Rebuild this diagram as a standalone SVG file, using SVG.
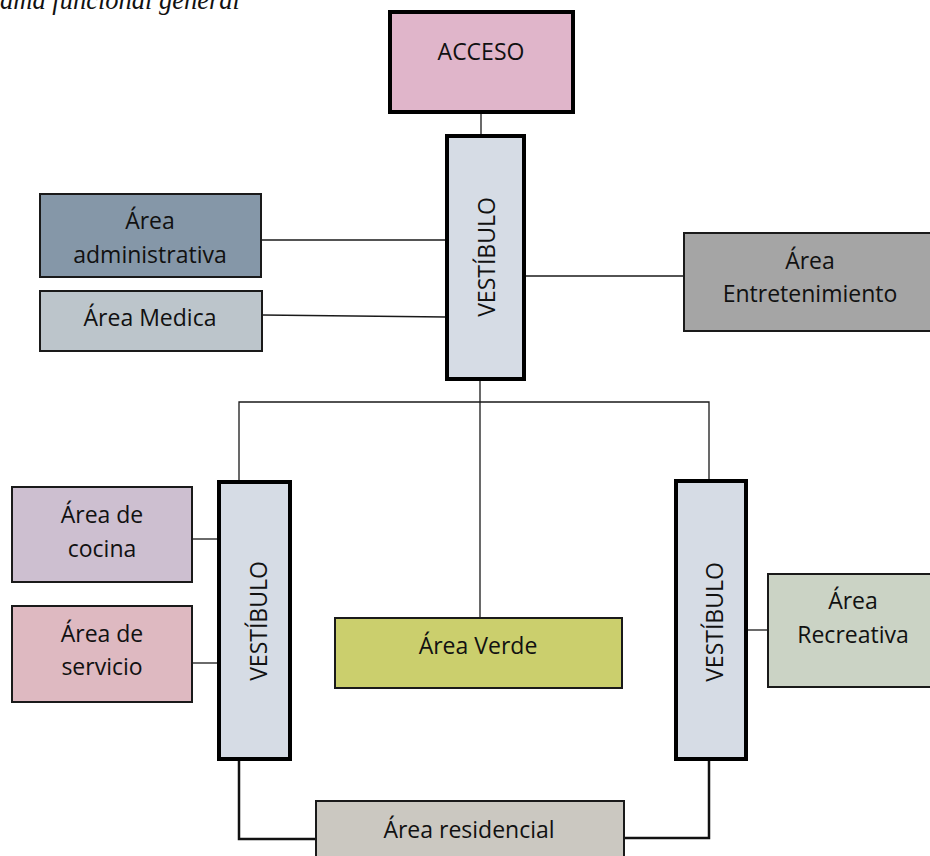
<svg xmlns="http://www.w3.org/2000/svg" width="930" height="856" viewBox="0 0 930 856">
  <style>
    .box { stroke: #1a1a1a; stroke-width: 2; }
    .hall { stroke: #000; stroke-width: 4; fill: #d6dce5; }
    .lbl { font-family: "Open Sans", "Noto Sans", sans-serif; font-size: 23px; fill: #111; text-anchor: middle; }
    .wire { stroke: #1a1a1a; stroke-width: 1.3; fill: none; }
    .wire-bold { stroke: #111; stroke-width: 2.5; fill: none; }
    .caption { font-family: "Liberation Serif", serif; font-style: italic; font-size: 26.5px; fill: #111; }
  </style>

  <rect width="930" height="856" fill="#fff"/>

  <text class="caption" x="0" y="9">ama funcional general</text>

  <!-- connectors -->
  <g id="connectors">
    <line class="wire" x1="481" y1="113" x2="481" y2="134"/>
    <line class="wire" x1="261" y1="240" x2="446" y2="240"/>
    <line class="wire" x1="262" y1="315" x2="446" y2="317"/>
    <line class="wire" x1="525" y1="276" x2="684" y2="276"/>
    <line class="wire" x1="480" y1="380" x2="480" y2="618"/>
    <polyline class="wire" points="239,481 239,402 709,402 709,480"/>
    <line class="wire" x1="192" y1="539" x2="218" y2="539"/>
    <line class="wire" x1="192" y1="663" x2="218" y2="663"/>
    <line class="wire" x1="746" y1="630" x2="768" y2="630"/>
    <polyline class="wire-bold" points="239,760 239,839 316,839"/>
    <polyline class="wire-bold" points="624,838 709,838 709,760"/>
  </g>

  <g id="acceso">
    <rect x="390" y="12" width="183" height="100" fill="#e0b5ca" stroke="#000" stroke-width="4"/>
    <text class="lbl" x="481" y="60">ACCESO</text>
  </g>

  <g id="vestibulo-central">
    <rect class="hall" x="447" y="136" width="77" height="243"/>
    <text class="lbl" transform="translate(495 257) rotate(-90)">VESTÍBULO</text>
  </g>

  <g id="area-administrativa">
    <rect class="box" x="40" y="194" width="221" height="83" fill="#8597a8"/>
    <text class="lbl" x="150" y="229">Área</text>
    <text class="lbl" x="150" y="263">administrativa</text>
  </g>

  <g id="area-medica">
    <rect class="box" x="40" y="291" width="222" height="60" fill="#bcc5cb"/>
    <text class="lbl" x="150" y="326">Área Medica</text>
  </g>

  <g id="area-entretenimiento">
    <rect class="box" x="684" y="233" width="250" height="98" fill="#a5a5a5"/>
    <text class="lbl" x="810" y="269">Área</text>
    <text class="lbl" x="810" y="302">Entretenimiento</text>
  </g>

  <g id="vestibulo-izquierdo">
    <rect class="hall" x="219" y="482" width="71" height="277"/>
    <text class="lbl" transform="translate(267 621) rotate(-90)">VESTÍBULO</text>
  </g>

  <g id="area-cocina">
    <rect class="box" x="12" y="487" width="180" height="95" fill="#cdbfd0"/>
    <text class="lbl" x="102" y="523">Área de</text>
    <text class="lbl" x="102" y="557">cocina</text>
  </g>

  <g id="area-servicio">
    <rect class="box" x="12" y="606" width="180" height="96" fill="#deb9c1"/>
    <text class="lbl" x="102" y="642">Área de</text>
    <text class="lbl" x="102" y="675">servicio</text>
  </g>

  <g id="area-verde">
    <rect class="box" x="335" y="618" width="287" height="70" fill="#cbcf6d"/>
    <text class="lbl" x="478" y="654">Área Verde</text>
  </g>

  <g id="vestibulo-derecho">
    <rect class="hall" x="676" y="481" width="70" height="278"/>
    <text class="lbl" transform="translate(723 622) rotate(-90)">VESTÍBULO</text>
  </g>

  <g id="area-recreativa">
    <rect class="box" x="768" y="574" width="166" height="113" fill="#cbd3c5"/>
    <text class="lbl" x="853" y="609">Área</text>
    <text class="lbl" x="853" y="643">Recreativa</text>
  </g>

  <g id="area-residencial">
    <rect class="box" x="316" y="801" width="308" height="70" fill="#cbc8c1"/>
    <text class="lbl" x="469" y="838">Área residencial</text>
  </g>
</svg>
